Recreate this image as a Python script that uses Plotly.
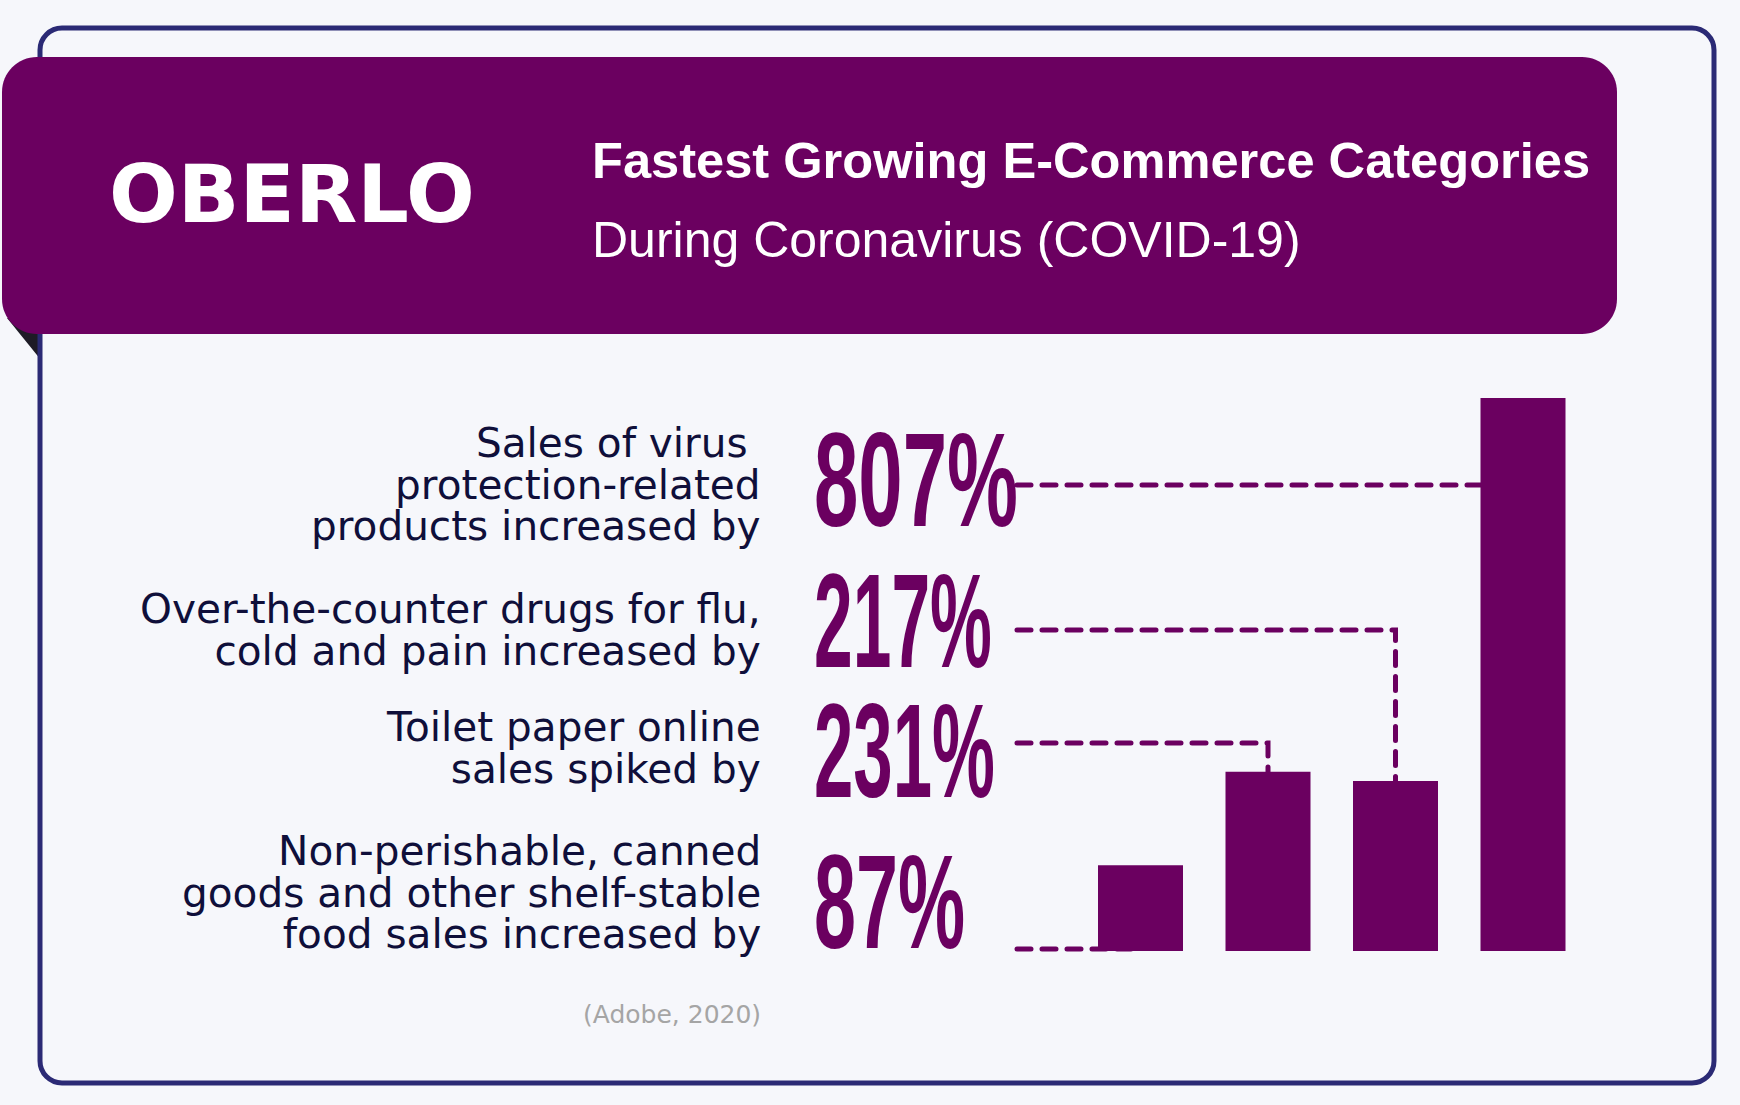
import json
import plotly.graph_objects as go

# ---------------- data ----------------
categories = [
    "Virus protection-related products",
    "Over-the-counter drugs for flu, cold and pain",
    "Toilet paper online sales",
    "Non-perishable, canned and shelf-stable food",
]
growth_pct = [807, 217, 231, 87]
label_lines = [
    ["Sales of virus\u00a0", "protection-related", "products increased by"],
    ["Over-the-counter drugs for flu,", "cold and pain increased by"],
    ["Toilet paper online", "sales spiked by"],
    ["Non-perishable, canned", "goods and other shelf-stable", "food sales increased by"],
]
bar_rows = [3, 2, 1, 0]  # category shown by each bar, left to right
title_text = "Fastest Growing E-Commerce Categories"
subtitle_text = "During Coronavirus (COVID-19)"
logo_text = "OBERLO"
source_text = "(Adobe, 2020)"

# ---------------- style / layout (pixels) ----------------
W, H = 1740, 1105
PURPLE = "#6B0060"
NAVY = "#2B2A75"
BG = "#F6F7FB"
INK = "#0F0F3A"
GRAY = "#A5A5A5"
FOLD = "#1E1B26"

BAR_CENTER0_PX = 1140.5
BAR_STEP_PX = 127.5
BAR_WIDTH_PX = 85
BAR_BASE_PX = 951
BAR_TOP_PX = 398
VISUAL_BASE = -45

LABEL_SIZE = 40.6
LABEL_LINE_PX = 41.7
LABEL_RIGHT_PX = 763
LABEL_FIRST_BASELINE_PX = [456, 622, 740, 864]
NUMBER_LEFT_PX = 812
NUMBER_CENTER_PX = [479.5, 621, 751, 902]
NUMBER_WIDTH_PX = [204, 178, 181, 151]
CONNECTOR_Y_PX = [485, 630, 743, 949]
CONNECTOR_START_PX = 1017

ppu = (BAR_BASE_PX - BAR_TOP_PX) / (max(growth_pct) - VISUAL_BASE)
x_range = [-BAR_CENTER0_PX / BAR_STEP_PX, (W - BAR_CENTER0_PX) / BAR_STEP_PX]
y_range = [VISUAL_BASE - (H - BAR_BASE_PX) / ppu, VISUAL_BASE + BAR_BASE_PX / ppu]


def px(xp):
    return xp / W


def py(yp):
    return 1 - yp / H


def dx(xp):
    return (xp - BAR_CENTER0_PX) / BAR_STEP_PX


def dy(yp):
    return VISUAL_BASE + (BAR_BASE_PX - yp) / ppu


def rounded_rect(x0, y0, x1, y1, r):
    k = 0.5523 * r
    pts = [
        ("M", [(x0 + r, y0)]),
        ("L", [(x1 - r, y0)]),
        ("C", [(x1 - r + k, y0), (x1, y0 + r - k), (x1, y0 + r)]),
        ("L", [(x1, y1 - r)]),
        ("C", [(x1, y1 - r + k), (x1 - r + k, y1), (x1 - r, y1)]),
        ("L", [(x0 + r, y1)]),
        ("C", [(x0 + r - k, y1), (x0, y1 - r + k), (x0, y1 - r)]),
        ("L", [(x0, y0 + r)]),
        ("C", [(x0, y0 + r - k), (x0 + r - k, y0), (x0 + r, y0)]),
    ]
    s = ""
    for cmd, ps in pts:
        s += cmd + " " + " ".join(f"{px(a):.6f},{py(b):.6f}" for a, b in ps) + " "
    return s + "Z"


fig = go.Figure()

bar_x = list(range(len(bar_rows)))
bar_vals = [growth_pct[r] for r in bar_rows]
fig.add_trace(go.Bar(
    x=bar_x,
    y=[v - VISUAL_BASE for v in bar_vals],
    base=VISUAL_BASE,
    width=BAR_WIDTH_PX / BAR_STEP_PX,
    marker=dict(color=PURPLE, line=dict(width=0)),
    hovertext=[f"{categories[r]}: +{growth_pct[r]}%" for r in bar_rows],
    hoverinfo="text",
))

shapes = []
# folded ribbon corner
shapes.append(dict(type="path", xref="paper", yref="paper", layer="below",
                   path=f"M {px(7)},{py(318)} L {px(41)},{py(318)} L {px(41)},{py(360)} Z",
                   fillcolor=FOLD, line=dict(width=0)))
# card border
shapes.append(dict(type="path", xref="paper", yref="paper", layer="below",
                   path=rounded_rect(40, 28, 1714, 1083, 22),
                   fillcolor="rgba(0,0,0,0)", line=dict(color=NAVY, width=5)))
# header banner
shapes.append(dict(type="path", xref="paper", yref="paper", layer="below",
                   path=rounded_rect(2, 57, 1617, 334, 35),
                   fillcolor=PURPLE, line=dict(width=0)))

# dashed connectors from the value labels to the bars
for r in range(len(growth_pct)):
    pos = bar_rows.index(r)
    yd = dy(CONNECTOR_Y_PX[r])
    path = f"M {dx(CONNECTOR_START_PX)},{yd} L {pos},{yd}"
    if yd > growth_pct[r]:
        path += f" L {pos},{growth_pct[r]}"
    shapes.append(dict(type="path", xref="x", yref="y", layer="below", path=path,
                       fillcolor="rgba(0,0,0,0)",
                       line=dict(color=PURPLE, width=5, dash="14px,11px")))

annotations = []


def ann(text, x, y, size, color, family, xanchor="left", weight="normal",
        yanchor="middle", align="left"):
    annotations.append(dict(
        text=text, x=px(x), y=py(y), xref="paper", yref="paper",
        xanchor=xanchor, yanchor=yanchor, align=align, showarrow=False,
        font=dict(size=size, color=color, family=family, weight=weight),
    ))


ann(logo_text, 292, 193.5, 81, "white", "DejaVu Sans", "center", "bold")
ann(title_text, 590, 178 - 0.3465 * 50.6, 50.6, "white", "Liberation Sans", "left", "bold")
ann(subtitle_text, 590, 257 - 0.3465 * 50, 50, "white", "Liberation Sans", "left")

# category descriptions: one multi-line text per row, top-anchored at first line
for lines, b in zip(label_lines, LABEL_FIRST_BASELINE_PX):
    ann("<br>".join(lines), LABEL_RIGHT_PX, b - 0.928 * LABEL_SIZE - 1, LABEL_SIZE, INK,
        "DejaVu Sans", "right", yanchor="top", align="right")

value_labels = [f"{v}%" for v in growth_pct]
for lab, c in zip(value_labels, NUMBER_CENTER_PX):
    ann(lab, NUMBER_LEFT_PX, c, 133, PURPLE, "Liberation Sans Narrow, Liberation Sans", "left", "bold")

ann(source_text, LABEL_RIGHT_PX, 1023 - 0.346 * 25, 25, GRAY, "DejaVu Sans", "right")

fig.update_layout(
    width=W, height=H,
    margin=dict(l=0, r=0, t=0, b=0),
    paper_bgcolor=BG, plot_bgcolor="rgba(0,0,0,0)",
    showlegend=False,
    xaxis=dict(range=x_range, domain=[0, 1], visible=False, fixedrange=True),
    yaxis=dict(range=y_range, domain=[0, 1], visible=False, fixedrange=True),
    shapes=shapes, annotations=annotations,
)

targets = json.dumps(dict(zip(value_labels, NUMBER_WIDTH_PX)))
line_em = LABEL_LINE_PX / LABEL_SIZE
post = """
document.body.style.margin = '0';
document.body.style.padding = '0';
document.body.style.background = '%s';
var gd = document.getElementById('{plot_id}');
var targets = %s;
var lineEm = %f;
gd.querySelectorAll('text.annotation-text').forEach(function(t){
  var s = t.textContent.trim();
  if (targets[s]) {
    var w = t.getBBox().width;
    t.style.transformBox = 'fill-box';
    t.style.transformOrigin = '0%% 50%%';
    t.style.transform = 'scaleX(' + (targets[s] / w) + ')';
  }
  var ls = t.querySelectorAll('tspan.line');
  if (ls.length > 1) {
    ls.forEach(function(l, i){ l.setAttribute('dy', (i * lineEm) + 'em'); });
  }
});
gd.querySelectorAll('.shapelayer path').forEach(function(p){
  var d = p.style.strokeDasharray;
  if (d && d !== 'none') { p.style.strokeLinecap = 'round'; }
});
""" % (BG, targets, line_em)

fig.write_html("out.html", post_script=post, config={"displayModeBar": False})
